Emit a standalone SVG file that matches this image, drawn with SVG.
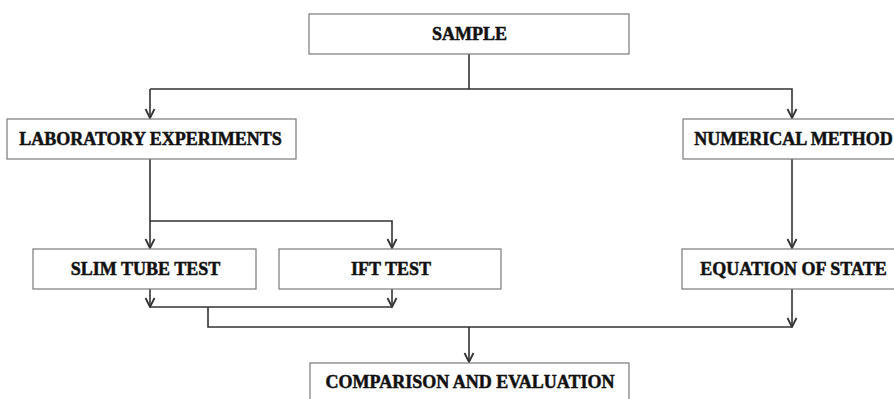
<svg xmlns="http://www.w3.org/2000/svg" width="894" height="399" viewBox="0 0 894 399">
<style>
.box{fill:#fff;stroke:#7a7a7a;stroke-width:1.2}
.t{font-family:"Liberation Serif","Times New Roman",serif;font-weight:bold;font-size:18px;fill:#111;stroke:#111;stroke-width:0.5;text-anchor:middle}
.c{fill:none;stroke:#333;stroke-width:1.6}
</style>
<defs>
<marker id="ah" viewBox="0 0 12 12" refX="11" refY="6" markerWidth="12" markerHeight="12" markerUnits="userSpaceOnUse" orient="auto">
<path d="M2,1.5 L11,6 L2,10.5" fill="none" stroke="#333" stroke-width="1.8"/>
</marker>
</defs>
<rect width="894" height="399" fill="#fff"/>
<g id="connectors">
<path class="c" d="M469,54 V89"/>
<path class="c" d="M150,89 H792 V118" marker-end="url(#ah)"/>
<path class="c" d="M150,89 V118" marker-end="url(#ah)"/>
<path class="c" d="M150,159 V248" marker-end="url(#ah)"/>
<path class="c" d="M150,221 H392 V248" marker-end="url(#ah)"/>
<path class="c" d="M792,159 V248" marker-end="url(#ah)"/>
<path class="c" d="M150,289 V307" marker-end="url(#ah)"/>
<path class="c" d="M392,289 V307" marker-end="url(#ah)"/>
<path class="c" d="M150,307 H392"/>
<path class="c" d="M208,307 V327 H792"/>
<path class="c" d="M792,289 V327" marker-end="url(#ah)"/>
<path class="c" d="M469,327 V362" marker-end="url(#ah)"/>
</g>
<g id="sample">
<rect class="box" x="309" y="14" width="320" height="40"/>
<text class="t" x="469.5" y="40">SAMPLE</text>
</g>
<g id="lab">
<rect class="box" x="7" y="119" width="289" height="40"/>
<text class="t" x="150.5" y="145">LABORATORY EXPERIMENTS</text>
</g>
<g id="numerical">
<rect class="box" x="683" y="119" width="220" height="40"/>
<text class="t" x="793.5" y="145">NUMERICAL METHOD</text>
</g>
<g id="slim">
<rect class="box" x="33" y="249" width="223" height="40"/>
<text class="t" x="145.5" y="275">SLIM TUBE TEST</text>
</g>
<g id="ift">
<rect class="box" x="279" y="249" width="222" height="40"/>
<text class="t" x="391" y="275">IFT TEST</text>
</g>
<g id="eos">
<rect class="box" x="682" y="249" width="222" height="40"/>
<text class="t" x="793.5" y="275">EQUATION OF STATE</text>
</g>
<g id="comparison">
<rect class="box" x="310" y="363" width="319" height="40"/>
<text class="t" x="470" y="388">COMPARISON AND EVALUATION</text>
</g>
</svg>
